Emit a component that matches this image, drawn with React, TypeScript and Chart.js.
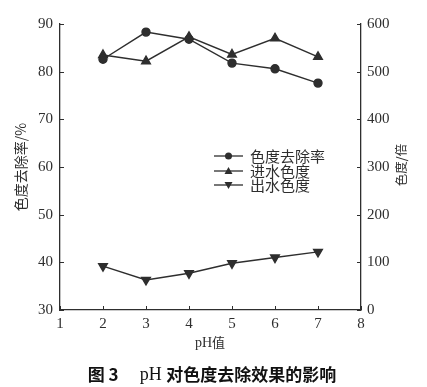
import React, { useEffect, useRef } from "react";
import { Chart, registerables } from "chart.js";

Chart.register(...registerables);

const phValues = [2, 3, 4, 5, 6, 7];
const removalRate = [82.6, 88.3, 86.8, 81.8, 80.6, 77.6];
const inflowColor = [535, 522, 573, 536, 570, 531];
const outflowColor = [92, 63, 77, 98, 110, 122];
const leftTicks = [30, 40, 50, 60, 70, 80, 90];
const rightTicks = [0, 100, 200, 300, 400, 500, 600];
const xTicks = [1, 2, 3, 4, 5, 6, 7, 8];
const seriesNames = ["色度去除率", "进水色度", "出水色度"];
const leftTitle = "色度去除率/%";
const rightTitle = "色度/倍";

const INK = "#2e2e2e";
const SERIF = "'Liberation Serif', 'DejaVu Serif', serif";
const CJK = "'Noto Sans CJK SC', sans-serif";

const decorPlugin = {
  id: "decor",
  afterDraw(chart: any) {
    const ctx = chart.ctx;
    const { x, y, y1 } = chart.scales;
    const ca = chart.chartArea;
    ctx.save();
    ctx.strokeStyle = INK;
    ctx.lineWidth = 1;
    // inner tick marks
    xTicks.forEach((v) => {
      const px = Math.round(x.getPixelForValue(v)) + 0.5;
      ctx.beginPath();
      ctx.moveTo(px, ca.bottom);
      ctx.lineTo(px, ca.bottom - 4);
      ctx.stroke();
    });
    leftTicks.forEach((v) => {
      const py = Math.round(y.getPixelForValue(v)) + 0.5;
      ctx.beginPath();
      ctx.moveTo(ca.left, py);
      ctx.lineTo(ca.left + 4, py);
      ctx.stroke();
    });
    rightTicks.forEach((v) => {
      const py = Math.round(y1.getPixelForValue(v)) + 0.5;
      ctx.beginPath();
      ctx.moveTo(ca.right, py);
      ctx.lineTo(ca.right - 4, py);
      ctx.stroke();
    });

    // legend
    const lx0 = 214, lx1 = 243, tx = 250;
    const rows = [156, 171, 185];
    const styles = ["circle", "triangle", "triangleDown"];
    rows.forEach((ry, i) => {
      ctx.strokeStyle = INK;
      ctx.lineWidth = 1.3;
      ctx.beginPath();
      ctx.moveTo(lx0, ry);
      ctx.lineTo(lx1, ry);
      ctx.stroke();
      ctx.fillStyle = INK;
      const cx = (lx0 + lx1) / 2;
      ctx.beginPath();
      if (styles[i] === "circle") {
        ctx.arc(cx, ry, 3.5, 0, Math.PI * 2);
      } else if (styles[i] === "triangle") {
        ctx.moveTo(cx, ry - 4);
        ctx.lineTo(cx + 4, ry + 3);
        ctx.lineTo(cx - 4, ry + 3);
      } else {
        ctx.moveTo(cx, ry + 4);
        ctx.lineTo(cx + 4, ry - 3);
        ctx.lineTo(cx - 4, ry - 3);
      }
      ctx.closePath();
      ctx.fill();
      ctx.font = `15px ${CJK}`;
      ctx.textAlign = "left";
      ctx.textBaseline = "middle";
      ctx.fillText(seriesNames[i], tx, ry);
    });

    // axis titles
    ctx.fillStyle = INK;
    ctx.font = `14px ${CJK}`;
    ctx.textAlign = "center";
    ctx.textBaseline = "middle";
    ctx.save();
    ctx.translate(21, 167);
    ctx.rotate(-Math.PI / 2);
    ctx.fillText(leftTitle, 0, 0);
    ctx.restore();
    ctx.font = `12.5px ${CJK}`;
    ctx.save();
    ctx.translate(401, 165);
    ctx.rotate(-Math.PI / 2);
    ctx.fillText(rightTitle, 0, 0);
    ctx.restore();

    // x title: "pH" serif + "值" CJK
    ctx.textAlign = "left";
    ctx.font = `14px ${SERIF}`;
    const w1 = ctx.measureText("pH").width;
    ctx.font = `13px ${CJK}`;
    const w2 = ctx.measureText("值").width;
    const sx = 210 - (w1 + w2) / 2;
    ctx.font = `14px ${SERIF}`;
    ctx.fillText("pH", sx, 343);
    ctx.font = `13px ${CJK}`;
    ctx.fillText("值", sx + w1, 342);

    // caption
    const parts = [
      { t: "图 3", f: `bold 17px ${CJK}` },
      { t: "     ", f: `17px ${SERIF}` },
      { t: "pH ", f: `18px ${SERIF}` },
      { t: "对色度去除效果的影响", f: `bold 17px ${CJK}` },
    ];
    let tw = 0;
    parts.forEach((p) => {
      ctx.font = p.f;
      tw += ctx.measureText(p.t).width;
    });
    let cx = 212 - tw / 2;
    ctx.fillStyle = "#111";
    parts.forEach((p) => {
      ctx.font = p.f;
      ctx.fillText(p.t, cx, 375);
      cx += ctx.measureText(p.t).width;
    });
    ctx.restore();
  },
};

export default function App() {
  const ref = useRef<HTMLCanvasElement | null>(null);
  useEffect(() => {
    document.body.style.margin = "0";
    const canvas = ref.current!;
    const tickFont = { family: SERIF, size: 15 };
    const chart = new Chart(canvas, {
      type: "line",
      data: {
        datasets: [
          {
            label: seriesNames[0],
            data: phValues.map((v, i) => ({ x: v, y: removalRate[i] })),
            yAxisID: "y",
            borderColor: INK,
            backgroundColor: INK,
            borderWidth: 1.4,
            pointStyle: "circle",
            pointRadius: 4,
          },
          {
            label: seriesNames[1],
            data: phValues.map((v, i) => ({ x: v, y: inflowColor[i] })),
            yAxisID: "y1",
            borderColor: INK,
            backgroundColor: INK,
            borderWidth: 1.4,
            pointStyle: "triangle",
            pointRadius: 5,
          },
          {
            label: seriesNames[2],
            data: phValues.map((v, i) => ({ x: v, y: outflowColor[i] })),
            yAxisID: "y1",
            borderColor: INK,
            backgroundColor: INK,
            borderWidth: 1.4,
            pointStyle: "triangle",
            rotation: 180,
            pointRadius: 5,
          },
        ],
      },
      options: {
        animation: false,
        responsive: false,
        devicePixelRatio: 1,
        layout: { padding: { top: 24, left: 0, right: 0, bottom: 0 } },
        plugins: { legend: { display: false }, tooltip: { enabled: false } },
        scales: {
          x: {
            type: "linear",
            min: 1,
            max: 8,
            afterFit: (s: any) => { s.height = 77; },
            afterBuildTicks: (s: any) => { s.ticks = xTicks.map((v) => ({ value: v })); },
            grid: { display: false, drawTicks: false },
            border: { display: true, color: INK, width: 1.3 },
            ticks: { color: INK, padding: 5, font: tickFont },
          },
          y: {
            position: "left",
            min: 30,
            max: 90,
            afterFit: (s: any) => { s.width = 60; },
            afterBuildTicks: (s: any) => { s.ticks = leftTicks.map((v) => ({ value: v })); },
            grid: { display: false, drawTicks: false },
            border: { display: true, color: INK, width: 1.3 },
            ticks: { color: INK, padding: 7, font: tickFont },
          },
          y1: {
            position: "right",
            min: 0,
            max: 600,
            afterFit: (s: any) => { s.width = 66; },
            afterBuildTicks: (s: any) => { s.ticks = rightTicks.map((v) => ({ value: v })); },
            grid: { display: false, drawTicks: false },
            border: { display: true, color: INK, width: 1.3 },
            ticks: { color: INK, padding: 6, font: tickFont },
          },
        },
      },
      plugins: [decorPlugin],
    } as any);
    return () => chart.destroy();
  }, []);
  return (
    <div style={{ width: 427, height: 387, background: "#fff" }}>
      <canvas ref={ref} width={427} height={387} style={{ display: "block" }} />
    </div>
  );
}
